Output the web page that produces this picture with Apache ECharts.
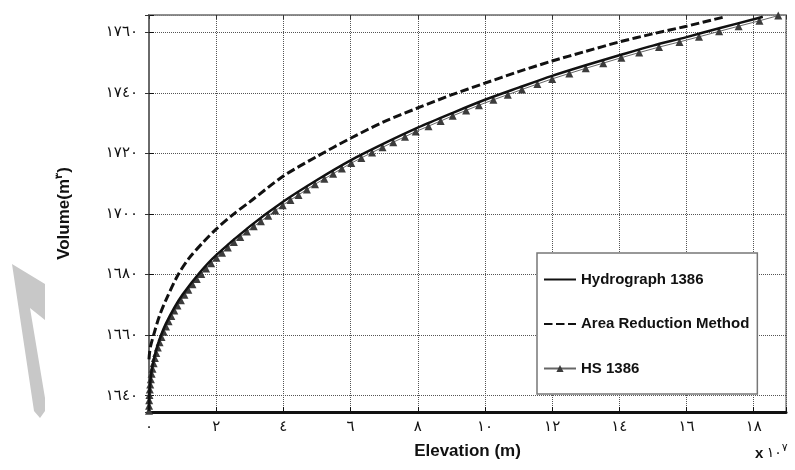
<!DOCTYPE html>
<html>
<head>
<meta charset="utf-8">
<script src="https://cdn.jsdelivr.net/npm/echarts@6/dist/echarts.min.js"></script>
<style>
  html, body { margin: 0; padding: 0; background: #fff; }
  #chart { width: 795px; height: 470px; }
</style>
</head>
<body>
<div id="chart"></div>
<script>
// tick labels (Arabic-Indic digits as in the source figure)
const xTickValues = [0, 2, 4, 6, 8, 10, 12, 14, 16, 18];
const xTickLabels = ['٠', '٢', '٤', '٦', '٨', '١٠', '١٢', '١٤', '١٦', '١٨'];
const yTickValues = [1640, 1660, 1680, 1700, 1720, 1740, 1760];
const yTickLabels = ['١٦٤٠', '١٦٦٠', '١٦٨٠', '١٧٠٠', '١٧٢٠', '١٧٤٠', '١٧٦٠'];

const seriesNames = ['Hydrograph 1386', 'Area Reduction Method', 'HS 1386'];

// Hydrograph 1386 (solid)
const hydroX = [0, 0.01, 0.05, 0.1, 0.2, 0.35, 0.5, 0.75, 1, 1.5, 2, 3, 4, 5, 6, 7, 8, 9, 10, 11, 12, 13, 14, 15, 16, 17, 18, 18.27];
const hydroY = [1635, 1640.5, 1645.9, 1649.6, 1654.5, 1659.7, 1663.7, 1669, 1673.4, 1680.5, 1686.4, 1695.9, 1704.1, 1711.2, 1717.7, 1723.3, 1728.5, 1733.2, 1737.7, 1741.7, 1745.6, 1749.1, 1752.4, 1755.6, 1758.4, 1761.4, 1764.3, 1765.1];

// Area Reduction Method (dashed)
const areaX = [0, 0.02, 0.05, 0.15, 0.3, 0.5, 0.87, 1.2, 1.6, 2, 2.5, 3, 4, 5, 6, 7, 8, 9, 10, 11, 12, 13, 14, 15, 16, 17.1];
const areaY = [1652, 1654.5, 1656.5, 1660.5, 1666, 1671.5, 1680, 1685.5, 1690.5, 1695, 1699.8, 1704, 1712.5, 1719, 1725, 1730.5, 1735, 1739.3, 1743.2, 1747, 1750.5, 1753.7, 1756.8, 1759.5, 1762, 1765];

// HS 1386 (triangles)
const hsX = [0, 0.002, 0.006, 0.013, 0.024, 0.038, 0.056, 0.078, 0.105, 0.137, 0.174, 0.215, 0.262, 0.314, 0.372, 0.436, 0.506, 0.582, 0.664, 0.752,
  0.846, 0.948, 1.055, 1.17, 1.292, 1.421, 1.556, 1.699, 1.85, 2.008, 2.173, 2.346, 2.527, 2.716, 2.913, 3.117, 3.33, 3.55, 3.76, 3.98,
  4.21, 4.45, 4.7, 4.94, 5.22, 5.48, 5.74, 6.02, 6.32, 6.64, 6.95, 7.27, 7.62, 7.94, 8.32, 8.68, 9.04, 9.44, 9.82, 10.25,
  10.68, 11.1, 11.56, 12, 12.51, 13, 13.52, 14.06, 14.59, 15.18, 15.79, 16.37, 16.97, 17.55, 18.17, 18.73];
const hsY = [1635, 1636.7, 1638.5, 1640.2, 1642, 1643.7, 1645.4, 1647.2, 1648.9, 1650.7, 1652.4, 1654.1, 1655.9, 1657.6, 1659.4, 1661.1, 1662.8, 1664.6, 1666.3, 1668.1,
  1669.8, 1671.5, 1673.3, 1675, 1676.8, 1678.5, 1680.2, 1682, 1683.7, 1685.5, 1687.2, 1688.9, 1690.7, 1692.4, 1694.2, 1695.9, 1697.6, 1699.4, 1701.1, 1702.9,
  1704.6, 1706.3, 1708.1, 1709.8, 1711.6, 1713.3, 1715, 1716.8, 1718.5, 1720.3, 1722, 1723.7, 1725.5, 1727.2, 1729, 1730.7, 1732.4, 1734.2, 1735.9, 1737.7,
  1739.4, 1741.1, 1742.9, 1744.6, 1746.4, 1748.1, 1749.8, 1751.6, 1753.3, 1755.1, 1756.8, 1758.5, 1760.3, 1762, 1763.8, 1765.5];

const pairs = (xs, ys) => xs.map((x, i) => [x, ys[i]]);

const tickLabel = (values, labels) => (v) => {
  const i = values.findIndex((t) => Math.abs(t - v) < 1e-6);
  return i >= 0 ? labels[i] : '';
};

const X_MIN = 0, X_MAX = 18.96, Y_MIN = 1634.6, Y_MAX = 1765.7;

const chart = echarts.init(document.getElementById('chart'));
chart.setOption({
  animation: false,
  backgroundColor: '#fff',
  grid: {
    left: 149, right: 9, top: 15, bottom: 58,
    show: true,
    borderColor: '#888',
    borderWidth: 1.5,
  },
  legend: {
    orient: 'vertical',
    left: 537,
    top: 253,
    padding: [19, 8, 18, 6],
    itemGap: 29.5,
    itemWidth: 32,
    itemHeight: 9,
    backgroundColor: '#fff',
    borderColor: '#777',
    borderWidth: 1.5,
    data: [
      // line-only icons: hide the default legend symbol
      { name: seriesNames[0], itemStyle: { opacity: 0 } },
      { name: seriesNames[1], itemStyle: { opacity: 0 } },
      { name: seriesNames[2] },
    ],
    textStyle: {
      fontFamily: 'Liberation Sans',
      fontWeight: 'bold',
      fontSize: 15,
      color: '#111',
    },
  },
  xAxis: [
    {
      type: 'value',
      min: X_MIN,
      max: X_MAX,
      interval: 2,
      name: 'Elevation (m)',
      nameLocation: 'middle',
      nameGap: 31,
      nameTextStyle: { fontFamily: 'Liberation Sans', fontWeight: 'bold', fontSize: 17, color: '#111' },
      axisLine: { lineStyle: { color: '#111', width: 3 } },
      axisTick: { inside: true, length: 5, lineStyle: { color: '#111' } },
      axisLabel: {
        margin: 8,
        fontFamily: 'DejaVu Sans',
        fontSize: 15,
        color: '#111',
        formatter: tickLabel(xTickValues, xTickLabels),
      },
      splitLine: { show: true, lineStyle: { type: 'dotted', color: '#555', width: 1 } },
    },
    {
      type: 'value',
      position: 'top',
      min: X_MIN,
      max: X_MAX,
      interval: 2,
      axisLine: { lineStyle: { color: '#888', width: 1.5 } },
      axisTick: { inside: true, length: 4, lineStyle: { color: '#333' } },
      axisLabel: { show: false },
      splitLine: { show: false },
    },
  ],
  yAxis: [
    {
      type: 'value',
      min: Y_MIN,
      max: Y_MAX,
      splitNumber: 6,
      name: 'Volume(m{s|٣})',
      nameLocation: 'middle',
      nameGap: 75,
      nameTextStyle: {
        fontFamily: 'Liberation Sans', fontWeight: 'bold', fontSize: 17, color: '#111',
        rich: {
          s: { fontFamily: 'DejaVu Sans', fontSize: 10, color: '#111', verticalAlign: 'top', padding: [0, 0, 10, 0] },
        },
      },
      axisLine: { lineStyle: { color: '#111', width: 2 } },
      axisTick: { inside: true, length: 5, lineStyle: { color: '#111' } },
      axisLabel: {
        margin: 11,
        fontFamily: 'DejaVu Sans',
        fontSize: 15,
        color: '#111',
        formatter: tickLabel(yTickValues, yTickLabels),
      },
      splitLine: { show: true, lineStyle: { type: 'dotted', color: '#555', width: 1 } },
    },
    {
      type: 'value',
      position: 'right',
      min: Y_MIN,
      max: Y_MAX,
      splitNumber: 6,
      axisLine: { show: true, lineStyle: { color: '#888', width: 1.5 } },
      axisTick: { show: true, inside: true, length: 4, lineStyle: { color: '#333' } },
      axisLabel: { show: false },
      splitLine: { show: false },
    },
  ],
  graphic: [
    {
      // faint watermark stroke at the left edge
      type: 'polygon',
      z: -1,
      shape: { points: [[12, 264], [45, 284], [45, 320], [30, 308], [45, 398], [45, 411], [40, 418], [34, 411]] },
      style: { fill: '#c8c8c8' },
    },
    {
      type: 'text',
      left: 755,
      top: 443,
      style: {
        text: '{x|x} {d|١٠}{s|٧}',
        rich: {
          x: { fontFamily: 'Liberation Sans', fontWeight: 'bold', fontSize: 15, fill: '#111' },
          d: { fontFamily: 'DejaVu Sans', fontSize: 14, fill: '#111' },
          s: { fontFamily: 'DejaVu Sans', fontSize: 11, fill: '#111', padding: [0, 0, 10, 0] },
        },
      },
    },
  ],
  series: [
    {
      name: 'HS 1386',
      type: 'line',
      z: 2,
      data: pairs(hsX, hsY),
      symbol: 'triangle',
      symbolSize: 8,
      showAllSymbol: true,
      itemStyle: { color: '#3c3c3c', borderWidth: 0 },
      lineStyle: { color: '#666', width: 1 },
    },
    {
      name: 'Hydrograph 1386',
      type: 'line',
      z: 3,
      data: pairs(hydroX, hydroY),
      smooth: 0.3,
      symbol: 'none',
      itemStyle: { color: '#111' },
      lineStyle: { color: '#111', width: 2.5 },
    },
    {
      name: 'Area Reduction Method',
      type: 'line',
      z: 3,
      data: pairs(areaX, areaY),
      smooth: 0.3,
      symbol: 'none',
      itemStyle: { color: '#111' },
      lineStyle: { color: '#111', width: 3, type: [8.5, 3.5] },
    },
  ],
});
</script>
</body>
</html>
